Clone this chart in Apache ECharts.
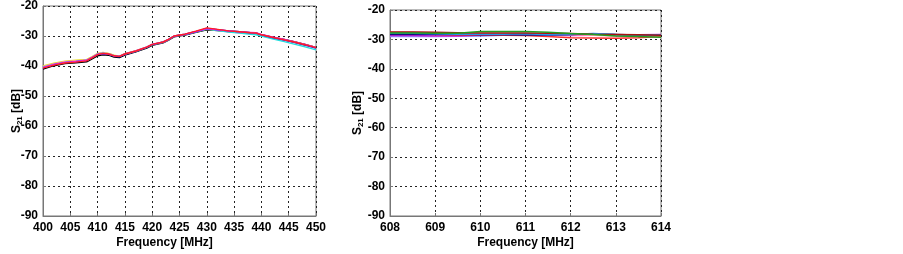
<!DOCTYPE html>
<html><head><meta charset="utf-8">
<script src="https://cdn.jsdelivr.net/npm/echarts@6/dist/echarts.min.js"></script>
<style>html,body{margin:0;padding:0;background:#fff}#c{width:903px;height:254px}</style>
</head><body><div id="c"></div>
<script>
// ---- Data ----
const freqL = [400,402,404,406,408,409,410,411,412,413,414,415,417,419,420,422,423,424,426,428,430,432,434,436,438,439,440,442,444,446,448,450];
const leftBlack   = [-41.0,-39.9,-39.2,-38.9,-38.6,-37.6,-36.6,-36.3,-36.4,-37.0,-37.2,-36.4,-35.3,-34.0,-33.1,-32.3,-31.4,-30.3,-29.7,-28.8,-27.9,-28.2,-28.5,-28.8,-29.0,-29.1,-29.6,-30.4,-31.1,-31.9,-32.8,-33.8];
const leftRed     = [-40.7,-39.7,-39.0,-38.7,-38.3,-37.3,-36.2,-35.8,-36.0,-36.6,-36.8,-36.0,-35.0,-33.7,-32.8,-32.0,-31.1,-30.0,-29.4,-28.4,-27.3,-27.8,-28.3,-28.6,-28.9,-29.0,-29.6,-30.4,-31.2,-32.0,-32.9,-33.9];
const leftGreen   = [-40.3,-39.4,-38.7,-38.4,-38.1,-37.2,-36.1,-35.7,-35.9,-36.5,-36.8,-36.0,-35.1,-33.8,-32.9,-32.1,-31.2,-30.1,-29.5,-28.6,-27.6,-28.0,-28.4,-28.6,-28.9,-29.0,-29.7,-30.5,-31.2,-32.0,-32.9,-33.9];
const leftBlue    = [-40.6,-39.6,-38.9,-38.6,-38.2,-37.2,-36.2,-35.9,-36.1,-36.7,-36.9,-36.1,-35.1,-33.8,-32.9,-32.1,-31.2,-30.1,-29.5,-28.6,-27.5,-27.9,-28.3,-28.6,-28.9,-29.0,-29.6,-30.5,-31.3,-32.1,-33.0,-34.0];
const leftCyan    = [-40.4,-39.5,-38.8,-38.5,-38.1,-37.1,-36.0,-35.7,-36.0,-36.6,-36.8,-36.0,-35.0,-33.7,-32.8,-32.0,-31.1,-30.0,-29.4,-28.6,-27.7,-28.2,-28.7,-29.0,-29.4,-29.6,-30.0,-30.9,-31.8,-32.7,-33.6,-34.6];
const leftMagenta = [-40.5,-39.5,-38.8,-38.5,-38.1,-37.1,-36.1,-35.8,-36.0,-36.6,-36.8,-36.0,-35.0,-33.7,-32.8,-32.0,-31.1,-30.0,-29.4,-28.5,-27.5,-27.9,-28.3,-28.6,-28.8,-28.9,-29.5,-30.3,-31.1,-31.9,-32.8,-33.8];
const leftYellow  = [-40.0,-39.1,-38.4,-38.1,-37.8,-36.9,-35.8,-35.5,-35.8,-36.4,-36.7,-35.9,-35.0,-33.7,-32.9,-32.1,-31.2,-30.1,-29.5,-28.6,-27.7,-28.1,-28.5,-28.8,-29.0,-29.1,-29.7,-30.5,-31.2,-32.0,-32.9,-33.8];
const leftPink    = [-40.2,-39.3,-38.6,-38.3,-38.0,-37.0,-35.9,-35.6,-35.9,-36.5,-36.7,-35.9,-34.9,-33.6,-32.8,-32.0,-31.1,-30.0,-29.4,-28.5,-27.6,-28.1,-28.6,-28.9,-29.1,-29.2,-29.8,-30.6,-31.3,-32.1,-33.0,-34.0];

const freqR = [608,608.5,609,609.5,610,610.5,611,611.5,612,612.5,613,613.5,614];
const rightLavender = [-29.0,-29.0,-29.0,-28.9,-28.8,-28.6,-28.5,-28.5,-28.6,-28.6,-28.5,-28.6,-28.8];
const rightMagenta  = [-28.7,-28.7,-28.8,-28.8,-28.5,-28.3,-28.3,-28.5,-28.7,-28.6,-28.4,-28.4,-28.3];
const rightRed      = [-28.0,-28.0,-28.3,-28.5,-28.5,-28.6,-28.7,-29.0,-29.4,-29.5,-29.6,-29.4,-29.0];
const rightPink     = [-27.6,-27.6,-27.7,-27.8,-27.9,-28.0,-28.0,-28.2,-28.4,-28.6,-28.8,-28.8,-28.7];
const rightDarkRed  = [-27.5,-27.5,-27.6,-27.7,-27.8,-27.8,-27.8,-27.9,-28.0,-28.2,-28.3,-28.4,-28.6];
const rightNavy     = [-28.3,-28.3,-28.3,-28.2,-28.4,-28.4,-28.5,-28.5,-28.3,-28.1,-28.3,-28.5,-28.4];
const rightAzure    = [-27.9,-27.9,-28.1,-28.2,-28.2,-28.2,-28.1,-28.4,-28.3,-28.0,-28.3,-28.4,-28.5];
const rightGreen    = [-27.8,-27.8,-27.9,-27.9,-27.3,-27.3,-27.3,-27.6,-28.0,-28.3,-28.8,-29.0,-29.3];

const yTicks = [-90,-80,-70,-60,-50,-40,-30,-20];
const xTicksL = [400,405,410,415,420,425,430,435,440,445,450];
const xTicksR = [608,609,610,611,612,613,614];

// ---- Chart ----
const leftSeries = [
  [leftBlack,'#000000'],[leftGreen,'#10a010'],[leftYellow,'#e8e020'],[leftPink,'#ff88bb'],
  [leftCyan,'#22dddd'],[leftBlue,'#1515ee'],[leftMagenta,'#ee22ee'],[leftRed,'#ff2020']
];
const rightSeries = [
  [rightLavender,'#8888ff'],[rightMagenta,'#dd22dd'],[rightRed,'#ff3030'],[rightPink,'#ff99aa'],
  [rightNavy,'#101080'],[rightAzure,'#2299ee'],[rightDarkRed,'#aa1010'],[rightGreen,'#20a020']
];
const series = [];
leftSeries.forEach(([v,c])=>series.push({type:'line',xAxisIndex:0,yAxisIndex:0,showSymbol:false,silent:true,
  data:freqL.map((f,i)=>[f,v[i]]),lineStyle:{color:c,width:1.4},itemStyle:{color:c}}));
rightSeries.forEach(([v,c])=>series.push({type:'line',xAxisIndex:1,yAxisIndex:1,showSymbol:false,silent:true,
  data:freqR.map((f,i)=>[f,v[i]]),lineStyle:{color:c,width:1.5},itemStyle:{color:c}}));

const font = 'Liberation Sans, Arial, sans-serif';
const lab = {color:'#000',fontFamily:font,fontSize:12,fontWeight:'bold'};
const split = {show:true,lineStyle:{color:'#222',type:[2,3],width:1}};
function xAx(idx,min,max,interval,nameOffset){
  return {type:'value',gridIndex:idx,min,max,interval,
    name:'Frequency [MHz]',nameLocation:'middle',nameGap:21,nameMoveOverlap:false,
    nameTextStyle:{color:'#000',fontFamily:font,fontSize:12,fontWeight:'bold',padding:nameOffset},
    axisLine:{show:true,lineStyle:{color:'#777'}},axisTick:{show:true,inside:true,length:3,lineStyle:{color:'#777'}},
    axisLabel:Object.assign({margin:6},lab),splitLine:split};
}
function yAx(idx,gap){
  return {type:'value',gridIndex:idx,min:-90,max:-20,interval:10,
    name:'{s|S}{sub|21}{s| [dB]}',nameLocation:'middle',nameGap:gap,nameRotate:90,nameMoveOverlap:false,
    nameTextStyle:{rich:{s:{color:'#000',fontFamily:font,fontSize:12,fontWeight:'bold'},
      sub:{color:'#000',fontFamily:font,fontSize:8,fontWeight:'bold',verticalAlign:'bottom',padding:[6,0,0,0]}}},
    axisLine:{show:true,lineStyle:{color:'#777'}},axisTick:{show:true,inside:true,length:3,lineStyle:{color:'#777'}},
    axisLabel:Object.assign({margin:5},lab),splitLine:split};
}
const chart = echarts.init(document.getElementById('c'),null,{renderer:'canvas'});
chart.setOption({
  backgroundColor:'#fff',animation:false,
  grid:[
    {left:43,top:5,width:273,height:214,show:true,borderColor:'#777',borderWidth:1,backgroundColor:'transparent'},
    {left:390,top:10,width:271,height:211,show:true,borderColor:'#777',borderWidth:1,backgroundColor:'transparent'}
  ],
  xAxis:[xAx(0,400,450,5,[0,30,0,0]),xAx(1,608,614,1,[0,0,0,0])],
  yAxis:[yAx(0,19),yAx(1,25)],
  series
});
</script></body></html>
